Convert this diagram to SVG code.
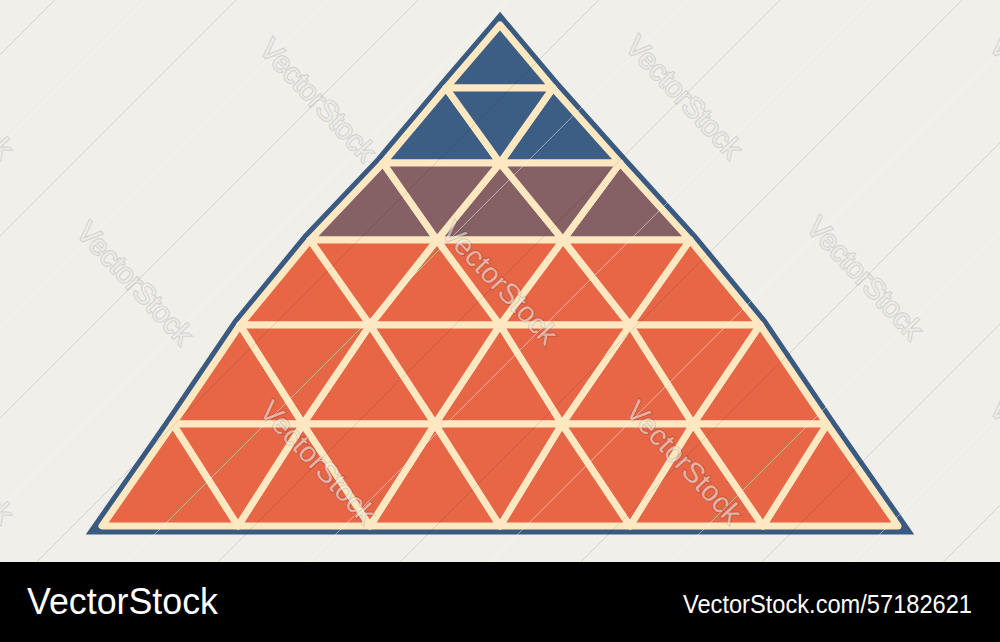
<svg xmlns="http://www.w3.org/2000/svg" width="1000" height="642" viewBox="0 0 1000 642">
<defs>
<style>
.tri{stroke:#fde8c1;stroke-width:7;stroke-linejoin:round}
.b{fill:#3d5e84}
.m{fill:#856065}
.o{fill:#e66646}
.dl{stroke:#000;stroke-opacity:0.11;stroke-width:1;fill:none}
.wl{stroke:#fff;stroke-opacity:0.45;stroke-width:1;fill:none}
.wm{font-family:"Liberation Sans",Arial,sans-serif;font-size:29px;text-anchor:middle;dominant-baseline:central;fill:#fff;fill-opacity:0.55;stroke:#000;stroke-opacity:0.13;stroke-width:2.2;paint-order:stroke}
.ft{font-family:"Liberation Sans",Arial,sans-serif;fill:#fff}
</style>
</defs>
<rect x="0" y="0" width="1000" height="642" fill="#f0efea"/>

<g id="outline">
<polygon points="500,25 446,88 383,163 310,240 240,325 173,424 102,526 898,526 827,424 760,325 690,240 620,163 553,88" fill="#3a5a82" stroke="#3a5a82" stroke-width="17" stroke-linejoin="miter"/>
</g>

<g id="row1">
<polygon class="tri b" points="500,25 446,88 553,88"/>
</g>
<g id="row2">
<polygon class="tri b" points="446,88 383,163 500,163"/>
<polygon class="tri b" points="553,88 500,163 620,163"/>
<polygon class="tri b" points="446,88 553,88 500,163"/>
</g>
<g id="row3">
<polygon class="tri m" points="383,163 310,240 437,240"/>
<polygon class="tri m" points="500,163 437,240 563,240"/>
<polygon class="tri m" points="620,163 563,240 690,240"/>
<polygon class="tri m" points="383,163 500,163 437,240"/>
<polygon class="tri m" points="500,163 620,163 563,240"/>
</g>
<g id="row4">
<polygon class="tri o" points="310,240 240,325 370,325"/>
<polygon class="tri o" points="437,240 370,325 500,325"/>
<polygon class="tri o" points="563,240 500,325 630,325"/>
<polygon class="tri o" points="690,240 630,325 760,325"/>
<polygon class="tri o" points="310,240 437,240 370,325"/>
<polygon class="tri o" points="437,240 563,240 500,325"/>
<polygon class="tri o" points="563,240 690,240 630,325"/>
</g>
<g id="row5">
<polygon class="tri o" points="240,325 173,424 303,424"/>
<polygon class="tri o" points="370,325 303,424 435,424"/>
<polygon class="tri o" points="500,325 435,424 562,424"/>
<polygon class="tri o" points="630,325 562,424 693,424"/>
<polygon class="tri o" points="760,325 693,424 827,424"/>
<polygon class="tri o" points="240,325 370,325 303,424"/>
<polygon class="tri o" points="370,325 500,325 435,424"/>
<polygon class="tri o" points="500,325 630,325 562,424"/>
<polygon class="tri o" points="630,325 760,325 693,424"/>
</g>
<g id="row6">
<polygon class="tri o" points="173,424 102,526 238,526"/>
<polygon class="tri o" points="303,424 238,526 370,526"/>
<polygon class="tri o" points="435,424 370,526 500,526"/>
<polygon class="tri o" points="562,424 500,526 630,526"/>
<polygon class="tri o" points="693,424 630,526 763,526"/>
<polygon class="tri o" points="827,424 763,526 898,526"/>
<polygon class="tri o" points="173,424 303,424 238,526"/>
<polygon class="tri o" points="303,424 435,424 370,526"/>
<polygon class="tri o" points="435,424 562,424 500,526"/>
<polygon class="tri o" points="562,424 693,424 630,526"/>
<polygon class="tri o" points="693,424 827,424 763,526"/>
</g>

<g id="watermark-lines">
<line class="dl" x1="0" y1="55" x2="55" y2="0"/>
<line class="dl" x1="0" y1="236" x2="236" y2="0"/>
<line class="dl" x1="0" y1="418" x2="418" y2="0"/>
<line class="dl" x1="37" y1="562" x2="599" y2="0"/>
<line class="dl" x1="218" y1="562" x2="780" y2="0"/>
<line class="dl" x1="400" y1="562" x2="962" y2="0"/>
<line class="dl" x1="581" y1="562" x2="1000" y2="143"/>
<line class="dl" x1="762" y1="562" x2="1000" y2="324"/>
<line class="dl" x1="943" y1="562" x2="1000" y2="505"/>
<line class="wl" x1="0" y1="146" x2="146" y2="0"/>
<line class="wl" x1="0" y1="327" x2="327" y2="0"/>
<line class="wl" x1="0" y1="508" x2="508" y2="0"/>
<line class="wl" x1="127" y1="562" x2="689" y2="0"/>
<line class="wl" x1="308" y1="562" x2="870" y2="0"/>
<line class="wl" x1="490" y1="562" x2="1000" y2="52"/>
<line class="wl" x1="671" y1="562" x2="1000" y2="233"/>
<line class="wl" x1="852" y1="562" x2="1000" y2="414"/>
</g>

<g id="watermarks">
<text class="wm" transform="translate(-45,97) rotate(47)">VectorStock</text>
<text class="wm" transform="translate(318,100) rotate(47)">VectorStock</text>
<text class="wm" transform="translate(684,97) rotate(47)">VectorStock</text>
<text class="wm" transform="translate(1048,97) rotate(47)">VectorStock</text>
<text class="wm" transform="translate(135,283) rotate(47)">VectorStock</text>
<text class="wm" transform="translate(500,283) rotate(47)">VectorStock</text>
<text class="wm" transform="translate(865,278) rotate(47)">VectorStock</text>
<text class="wm" transform="translate(-45,462) rotate(47)">VectorStock</text>
<text class="wm" transform="translate(318,462) rotate(47)">VectorStock</text>
<text class="wm" transform="translate(684,462) rotate(47)">VectorStock</text>
<text class="wm" transform="translate(1048,460) rotate(47)">VectorStock</text>
</g>

<g id="footer">
<rect x="0" y="562" width="1000" height="80" fill="#000"/>
<text class="ft" x="27" y="614" font-size="36" textLength="191" lengthAdjust="spacingAndGlyphs">VectorStock</text>
<text class="ft" x="683" y="613" font-size="26" textLength="289" lengthAdjust="spacingAndGlyphs">VectorStock.com/57182621</text>
</g>
</svg>
